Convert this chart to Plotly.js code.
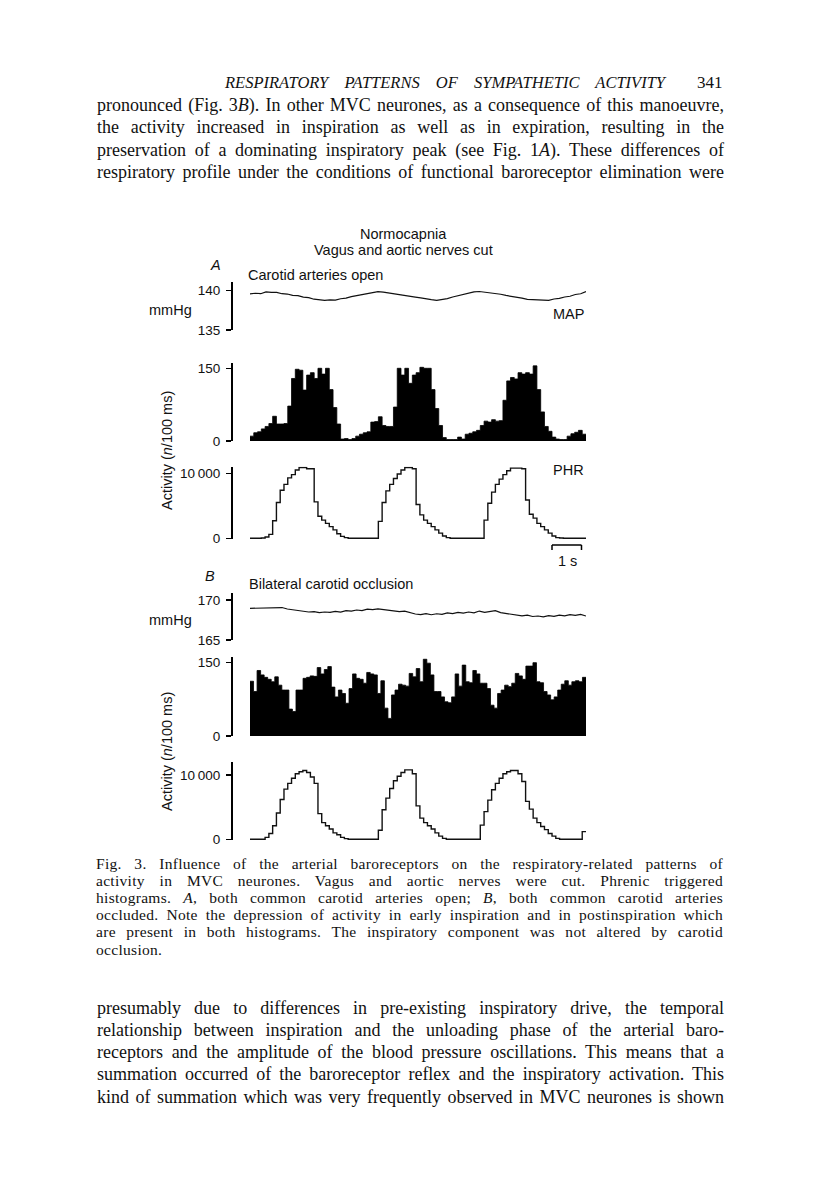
<!DOCTYPE html>
<html><head><meta charset="utf-8">
<script src="https://cdn.plot.ly/plotly-3.0.1.min.js"></script>
<style>
html,body{margin:0;padding:0;background:#fff;}
#page{position:relative;width:816px;height:1177px;overflow:hidden;background:#fff;}
#plot{position:absolute;left:0;top:0;width:816px;height:1177px;}
.t{position:absolute;font-family:'Liberation Serif','Times New Roman',serif;color:#111;z-index:5;pointer-events:none;}
.j{text-align:justify;text-align-last:justify;}
.body{left:97px;width:627px;font-size:18px;line-height:21px;}
.cap{left:96px;width:627px;font-size:15.5px;line-height:17px;letter-spacing:0.3px;white-space:nowrap;}
</style></head>
<body><div id="page"><div id="plot"></div></div>
<script>
// ---------------- data ----------------
const mapA = [139.60,139.68,139.62,139.85,139.80,139.78,139.62,139.58,139.42,139.38,139.18,139.12,138.92,138.88,138.78,138.84,
  138.80,138.98,139.05,139.25,139.38,139.52,139.68,139.75,139.88,139.82,139.70,139.66,139.48,139.40,139.30,139.18,
  139.08,138.94,138.86,138.78,138.86,139.00,139.20,139.35,139.58,139.66,139.86,139.90,139.82,139.78,139.62,139.55,
  139.40,139.30,139.12,139.05,138.90,138.86,138.78,138.80,138.78,138.95,139.02,139.20,139.30,139.52,139.62,139.90];
const histA = [10,17,19,25,30,36,51,35,35,36,72,129,148,146,105,136,141,129,150,138,150,106,69,35,4,5,3,5,10,14,17,19,
  39,40,50,32,30,30,70,150,136,150,119,136,141,152,150,150,106,67,32,7,3,3,3,8,4,14,16,19,22,32,41,39,44,41,42,84,
  124,131,128,141,138,141,138,155,106,60,30,20,8,4,3,3,10,15,18,22,14];
const phrA = [0,0,0,50,200,600,2700,5500,7400,8300,9300,9800,10500,10900,10900,10700,10700,5600,3400,2800,2300,1800,1300,700,300,100,
  0,0,0,0,0,0,0,0,
  2600,5500,7300,8300,9200,9900,10500,10900,10900,10700,5200,3600,2800,2300,1800,1300,800,350,100,
  0,0,0,0,0,0,0,0,0,
  2800,5400,7100,8300,9100,9800,10400,10800,10800,10800,10700,5900,3700,3100,2300,1800,1300,800,350,100,50,
  0,0,0,0,0,0];
const mapB = [168.96,168.98,169.02,168.98,169.05,169.00,169.06,168.88,168.78,168.70,168.62,168.50,168.55,168.42,168.50,168.45,
  168.58,168.48,168.66,168.60,168.75,168.68,168.86,168.80,168.90,168.82,168.76,168.70,168.55,168.62,168.40,168.25,
  168.18,168.30,168.16,168.28,168.20,168.38,168.30,168.45,168.36,168.50,168.40,168.62,168.45,168.58,168.66,168.42,
  168.30,168.20,168.10,168.02,168.12,167.94,168.00,167.90,168.05,167.95,168.12,168.02,168.16,168.08,168.20,168.00];
const histB = [112,91,134,125,120,116,111,121,104,94,94,55,50,94,94,118,120,123,122,140,127,136,142,100,80,94,87,67,97,127,
  118,116,108,130,127,125,87,113,57,36,84,94,106,104,102,128,121,138,111,157,149,125,91,91,80,70,68,80,127,102,
  145,111,109,134,127,108,108,97,63,57,87,94,104,101,108,128,123,116,143,143,150,111,109,91,84,74,80,94,106,113,
  104,111,113,111,120];
const phrB = [0,0,0,0,300,900,2100,4100,6200,7800,8700,9500,10200,10500,10700,10400,9700,8700,4000,2600,2100,1600,1000,700,300,100,
  0,0,0,0,0,0,0,0,
  1400,4600,6400,7900,9100,9800,10400,10800,10800,10200,5200,3300,2600,2100,1600,1000,500,150,
  0,0,0,0,0,0,0,0,0,
  2200,4300,6100,7700,8700,9500,10200,10500,10700,10700,10200,9000,5900,4700,3300,2600,2000,1500,900,500,150,
  0,0,0,0,0,0,1200];
const mapTicksA = [135,140], mapTickTextA = ['135','140'];
const mapTicksB = [165,170], mapTickTextB = ['165','170'];
const histTicks = [0,150], histTickText = ['0','150'];
const phrTicks = [0,10000], phrTickText = ['0','10\u2009000'];

// ---------------- helpers ----------------
const W = 816, H = 1177;
const dx = p => p / W;
const dy = p => 1 - p / H;
const sans = 'Liberation Sans, Arial, Helvetica, sans-serif';

function lineTrace(vals, ax, n) {
  const x = vals.map((v, i) => i * n / (vals.length - 1));
  return {type:'scatter', mode:'lines', x, y:vals, xaxis:'x'+ax, yaxis:'y'+ax,
    line:{color:'#111', width:1.2}, hoverinfo:'skip'};
}
// histogram drawn as a solid step-filled area (bins of equal width, no seams)
function histTrace(vals, ax) {
  const x = vals.map((v,i)=>i); x.push(vals.length);
  const y = vals.slice(); y.push(vals[vals.length-1]);
  return {type:'scatter', mode:'lines', x, y, xaxis:'x'+ax, yaxis:'y'+ax, fill:'tozeroy',
    fillcolor:'#000', line:{color:'#000', width:0.8, shape:'hv'}, hoverinfo:'skip'};
}
function stepTrace(vals, ax) {
  const x = vals.map((v,i)=>i); x.push(vals.length);
  const y = vals.slice(); y.push(vals[vals.length-1]);
  return {type:'scatter', mode:'lines', x, y, xaxis:'x'+ax, yaxis:'y'+ax,
    line:{color:'#111', width:1.4, shape:'hv'}, hoverinfo:'skip'};
}
function xax(n) {
  return {domain:[dx(250), dx(586)], range:[0, n], visible:false, fixedrange:true};
}
function yax(top, bottom, range, tv, tt) {
  return {domain:[dy(bottom), dy(top)], range, anchor:'free', position:dx(231),
    showline:true, linecolor:'#000', linewidth:1.5, ticks:'outside', ticklen:5, tickwidth:1.5,
    tickcolor:'#000', tickvals:tv, ticktext:tt, showgrid:false, zeroline:false, fixedrange:true,
    ticklabelstandoff:3, tickfont:{family:sans, size:13.5, color:'#111'}};
}

const data = [
  lineTrace(mapA, 1, phrA.length),
  histTrace(histA, 2),
  stepTrace(phrA, 3),
  lineTrace(mapB, 4, phrB.length),
  histTrace(histB, 5),
  stepTrace(phrB, 6)
];

function ann(text, px, py, size, xanchor, extra) {
  return Object.assign({text, x:dx(px), y:dy(py), xref:'paper', yref:'paper', showarrow:false,
    xanchor:xanchor||'left', yanchor:'middle', font:{family:sans, size:size||14, color:'#111'}}, extra||{});
}

const layout = {
  width:W, height:H, margin:{l:0,r:0,t:0,b:0}, showlegend:false,
  paper_bgcolor:'rgba(0,0,0,0)', plot_bgcolor:'rgba(0,0,0,0)',
  xaxis:xax(phrA.length), xaxis2:xax(histA.length), xaxis3:xax(phrA.length),
  xaxis4:xax(phrB.length), xaxis5:xax(histB.length), xaxis6:xax(phrB.length),
  yaxis: yax(281.7, 330, [135, 141.15], mapTicksA, mapTickTextA),
  yaxis2: yax(363.3, 441, [0, 160.3], histTicks, histTickText),
  yaxis3: yax(466.7, 539.3, [-154, 11015], phrTicks, phrTickText),
  yaxis4: yax(593.3, 640, [165, 170.84], mapTicksB, mapTickTextB),
  yaxis5: yax(657.3, 736, [0, 161], histTicks, histTickText),
  yaxis6: yax(761.7, 840.3, [-155, 12068], phrTicks, phrTickText),
  annotations:[
    ann('Normocapnia', 403, 234, 14.5, 'center'),
    ann('Vagus and aortic nerves cut', 403, 250, 14.5, 'center'),
    ann('<i>A</i>', 215, 265, 14.5, 'center'),
    ann('Carotid arteries open', 246, 275, 14.5),
    ann('mmHg', 147, 310, 14.5),
    ann('MAP', 586, 314, 14.5, 'right'),
    ann('PHR', 586, 470, 14.5, 'right'),
    ann('1 s', 567, 561, 14.5, 'center'),
    ann('<i>B</i>', 210, 576, 14.5, 'center'),
    ann('Bilateral carotid occlusion', 247, 584, 14.5),
    ann('mmHg', 147, 620, 14.5),
    ann('Activity (<i>n</i>/100 ms)', 167, 451, 14.5, 'center', {textangle:-90}),
    ann('Activity (<i>n</i>/100 ms)', 167, 752, 14.5, 'center', {textangle:-90})
  ],
  shapes:[
    {type:'line', xref:'paper', yref:'paper', x0:dx(552), x1:dx(581.5), y0:dy(545), y1:dy(545), line:{color:'#000', width:1.5}},
    {type:'line', xref:'paper', yref:'paper', x0:dx(552), x1:dx(552), y0:dy(545), y1:dy(550), line:{color:'#000', width:1.5}},
    {type:'line', xref:'paper', yref:'paper', x0:dx(581.5), x1:dx(581.5), y0:dy(545), y1:dy(550), line:{color:'#000', width:1.5}}
  ]
};
Plotly.newPlot('plot', data, layout, {staticPlot:true, displayModeBar:false});

// ---------------- page text ----------------
const page = document.getElementById('page');
function addLine(html, cls, centerY, lh, style) {
  const d = document.createElement('div');
  d.className = 't ' + cls;
  d.innerHTML = html;
  d.style.top = (centerY - lh/2) + 'px';
  if (style) Object.assign(d.style, style);
  page.appendChild(d);
}
addLine('RESPIRATORY PATTERNS OF SYMPATHETIC ACTIVITY', 'j', 83, 20,
  {left:'225px', width:'440px', fontSize:'16.5px', fontStyle:'italic', lineHeight:'20px'});
addLine('341', '', 83, 20, {left:'697px', fontSize:'17px', lineHeight:'20px'});
const topPara = [
  'pronounced (Fig. 3<i>B</i>). In other MVC neurones, as a consequence of this manoeuvre,',
  'the activity increased in inspiration as well as in expiration, resulting in the',
  'preservation of a dominating inspiratory peak (see Fig. 1<i>A</i>). These differences of',
  'respiratory profile under the conditions of functional baroreceptor elimination were'
];
topPara.forEach((s,i)=>addLine(s, 'body j', 105 + i*22.5, 21));
const caption = [
  'Fig. 3. Influence of the arterial baroreceptors on the respiratory-related patterns of',
  'activity in MVC neurones. Vagus and aortic nerves were cut. Phrenic triggered',
  'histograms. <i>A</i>, both common carotid arteries open; <i>B</i>, both common carotid arteries',
  'occluded. Note the depression of activity in early inspiration and in postinspiration which',
  'are present in both histograms. The inspiratory component was not altered by carotid',
  'occlusion.'
];
caption.forEach((s,i)=>addLine(s, 'cap' + (i < caption.length-1 ? ' j' : ''), 863 + i*17.2, 17));
const botPara = [
  'presumably due to differences in pre-existing inspiratory drive, the temporal',
  'relationship between inspiration and the unloading phase of the arterial baro-',
  'receptors and the amplitude of the blood pressure oscillations. This means that a',
  'summation occurred of the baroreceptor reflex and the inspiratory activation. This',
  'kind of summation which was very frequently observed in MVC neurones is shown'
];
botPara.forEach((s,i)=>addLine(s, 'body j', 1008 + i*22.3, 21));
</script>
</body></html>
